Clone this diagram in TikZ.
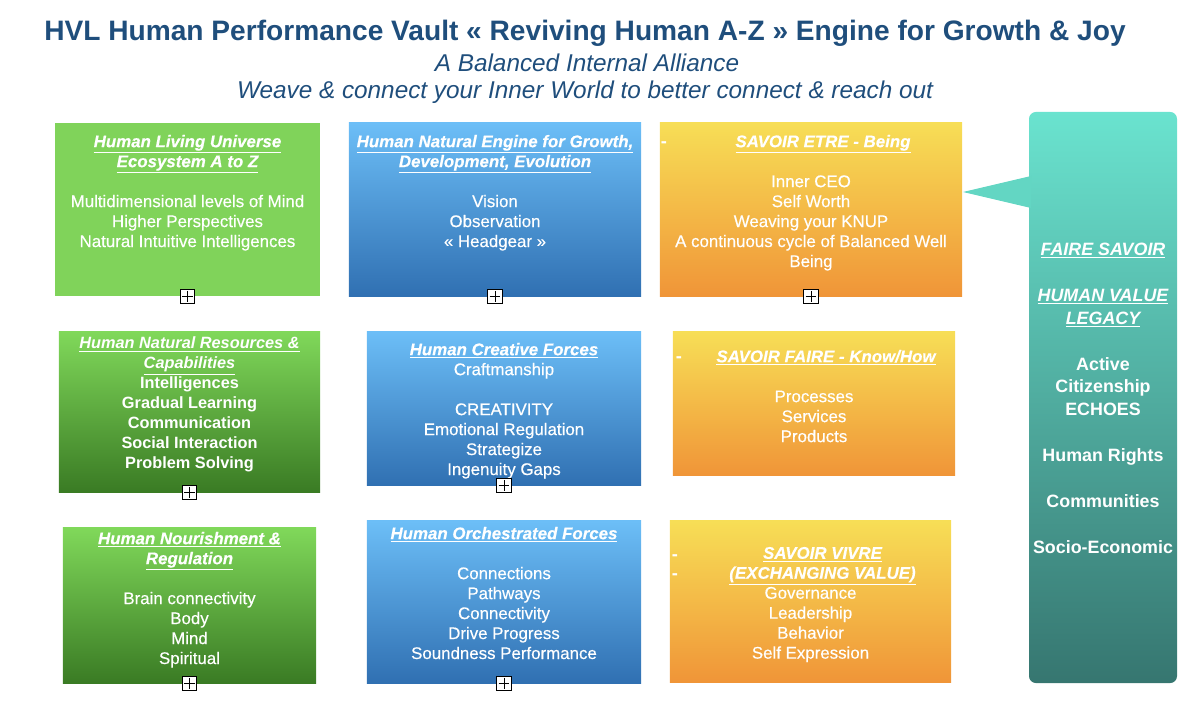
\documentclass[tikz,border=0pt]{standalone}
\usepackage{fontspec}
\setmainfont{Liberation Sans}
\newfontfamily\smoothfont[FakeBold=0.35]{Liberation Sans}
\usetikzlibrary{positioning}
\definecolor{titleblue}{HTML}{1F4E7C}
\definecolor{greenflat}{HTML}{80D35A}
\definecolor{greentop}{HTML}{80D85A}
\definecolor{greenbot}{HTML}{3A7B24}
\definecolor{bluetop}{HTML}{6CBEF7}
\definecolor{bluebot}{HTML}{3070B2}
\definecolor{orangetop}{HTML}{F7DE56}
\definecolor{orangebot}{HTML}{F09538}
\definecolor{tealtop}{HTML}{6AE3CF}
\definecolor{tealbot}{HTML}{367670}
\definecolor{tealtip}{HTML}{63D6C3}
\newcommand{\hd}[1]{\textbf{\textit{\underline{#1}}}}
\tikzset{
  panel/.style={rectangle, draw=none, inner sep=0pt},
  greenplain/.style={panel, fill=greenflat},
  greenpanel/.style={panel, top color=greentop, bottom color=greenbot},
  bluepanel/.style={panel, top color=bluetop, bottom color=bluebot},
  orangepanel/.style={panel, top color=orangetop, bottom color=orangebot},
  tealpanel/.style={panel, rounded corners=5pt, top color=tealtop, bottom color=tealbot},
  paneltext/.style={text=white, align=center, inner sep=0pt,
    font=\smoothfont\fontsize{12}{14.2}\selectfont},
  tealtext/.style={text=white, align=center, inner sep=0pt,
    font=\bfseries\fontsize{12.7}{16.3}\selectfont},
  dashmark/.style={text=white, inner sep=0pt, font=\bfseries\fontsize{13}{14}\selectfont},
  plusbox/.style={draw=black, fill=white, line width=0.7pt, minimum size=0.36cm,
    inner sep=0pt, path picture={
      \draw[line width=0.7pt] ([yshift=-1.3pt]path picture bounding box.north)
        -- ([yshift=1.3pt]path picture bounding box.south);
      \draw[line width=0.7pt] ([xshift=1.3pt]path picture bounding box.west)
        -- ([xshift=-1.3pt]path picture bounding box.east);}}
}
\begin{document}
\begin{tikzpicture}[x=0.025cm, y=-0.025cm]
  \useasboundingbox (0,0) rectangle (1200,721);
  % heading
  \node[text=titleblue, font=\bfseries\fontsize{20}{22}\selectfont] (title) at (585,33)
    {HVL Human Performance Vault « Reviving Human A-Z » Engine for Growth \& Joy};
  \node[text=titleblue, font=\itshape\fontsize{17.3}{19}\selectfont] (subA) at (587,63)
    {A Balanced Internal Alliance};
  \node[text=titleblue, font=\itshape\fontsize{17.3}{19}\selectfont] (subB) at (585,92)
    {Weave \& connect your Inner World to better connect \& reach out};
  % first column
  \node[greenplain, minimum width=6.625cm, minimum height=4.325cm] (A) at (187.5,209.5) {};
  \node[greenpanel, minimum width=6.525cm, minimum height=4cm] (B) at (189.5,412) {};
  \node[greenpanel, minimum width=6.325cm, minimum height=3.875cm] (C) at (189.5,605.5) {};
  % second column
  \node[bluepanel, minimum width=7.3cm, minimum height=4.325cm] (D) at (495,209.5) {};
  \node[bluepanel, minimum width=6.85cm, minimum height=3.825cm] (E) at (504,408.5) {};
  \node[bluepanel, minimum width=6.85cm, minimum height=4.05cm] (F) at (504,602) {};
  % third column
  \node[orangepanel, minimum width=7.55cm, minimum height=4.325cm] (G) at (811,209.5) {};
  \node[orangepanel, minimum width=7.05cm, minimum height=3.575cm] (H) at (814,403.5) {};
  \node[orangepanel, minimum width=7.025cm, minimum height=4.025cm] (I) at (810.5,601.5) {};
  % legacy column with its pointer
  \node[tealpanel, minimum width=3.7cm, minimum height=14.275cm] (legacy) at (1103,397.5) {};
  \coordinate (tip) at (963,192);
  \fill[tealtip] (tip) -- (1031,176) -- (1031,208) -- cycle;

  % texts
  \node[paneltext, below=0.3cm of A.north] (textA)
    {\hd{Human Living Universe}\\ \hd{Ecosystem A to Z}\\[14.2pt]
     Multidimensional levels of Mind\\ Higher Perspectives\\ Natural Intuitive Intelligences};
  \node[paneltext, below=0.125cm of B.north, font=\bfseries\fontsize{11.6}{14.2}\selectfont] (textB)
    {\hd{Human Natural Resources \&}\\ \hd{Capabilities}\\ Intelligences\\ Gradual Learning\\
     Communication\\ Social Interaction\\ Problem Solving};
  \node[paneltext, below=0.1cm of C.north] (textC)
    {\hd{Human Nourishment \&}\\ \hd{Regulation}\\[14.2pt]
     Brain connectivity\\ Body\\ Mind\\ Spiritual};
  \node[paneltext, below=0.3cm of D.north] (textD)
    {\hd{Human Natural Engine for Growth,}\\ \hd{Development, Evolution}\\[14.2pt]
     Vision\\ Observation\\ « Headgear »};
  \node[paneltext, below=0.275cm of E.north] (textE)
    {\hd{Human Creative Forces}\\ Craftmanship\\[14.2pt]
     CREATIVITY\\ Emotional Regulation\\ Strategize\\ Ingenuity Gaps};
  \node[paneltext, below=0.15cm of F.north] (textF)
    {\hd{Human Orchestrated Forces}\\[14.2pt]
     Connections\\ Pathways\\ Connectivity\\ Drive Progress\\ Soundness Performance};
  \node[paneltext, below=0.3cm of G.north] (textG)
    {\hspace*{0.6cm}\hd{SAVOIR ETRE - Being}\\[14.2pt]
     Inner CEO\\ Self Worth\\ Weaving your KNUP\\ A continuous cycle of Balanced Well\\ Being};
  \node[paneltext, below=0.45cm of H.north] (textH)
    {\hspace*{0.6cm}\hd{SAVOIR FAIRE - Know/How}\\[14.2pt]
     Processes\\ Services\\ Products};
  \node[paneltext, below=0.65cm of I.north] (textI)
    {\hspace*{0.6cm}\hd{SAVOIR VIVRE}\\ \hspace*{0.6cm}\hd{(EXCHANGING VALUE)}\\
     Governance\\ Leadership\\ Behavior\\ Self Expression};
  \node[tealtext, below=3.275cm of legacy.north] (textL)
    {\hd{FAIRE SAVOIR}\\[16.3pt] \hd{HUMAN VALUE}\\ \hd{LEGACY}\\[16.3pt]
     Active\\ Citizenship\\ ECHOES\\[16.3pt] Human Rights\\[16.3pt]
     Communities\\[16.3pt] Socio-Economic};

  % bullet dashes
  \node[dashmark] (dashG) at (664,145) {-};
  \node[dashmark] (dashH) at (679,360) {-};
  \node[dashmark] (dashIa) at (675,558) {-};
  \node[dashmark] (dashIb) at (675,577) {-};

  % expand markers
  \foreach \p in {A,B,C,D,E,F,G}
    \node[plusbox] (plus\p) at (\p.south) {};
\end{tikzpicture}
\end{document}
